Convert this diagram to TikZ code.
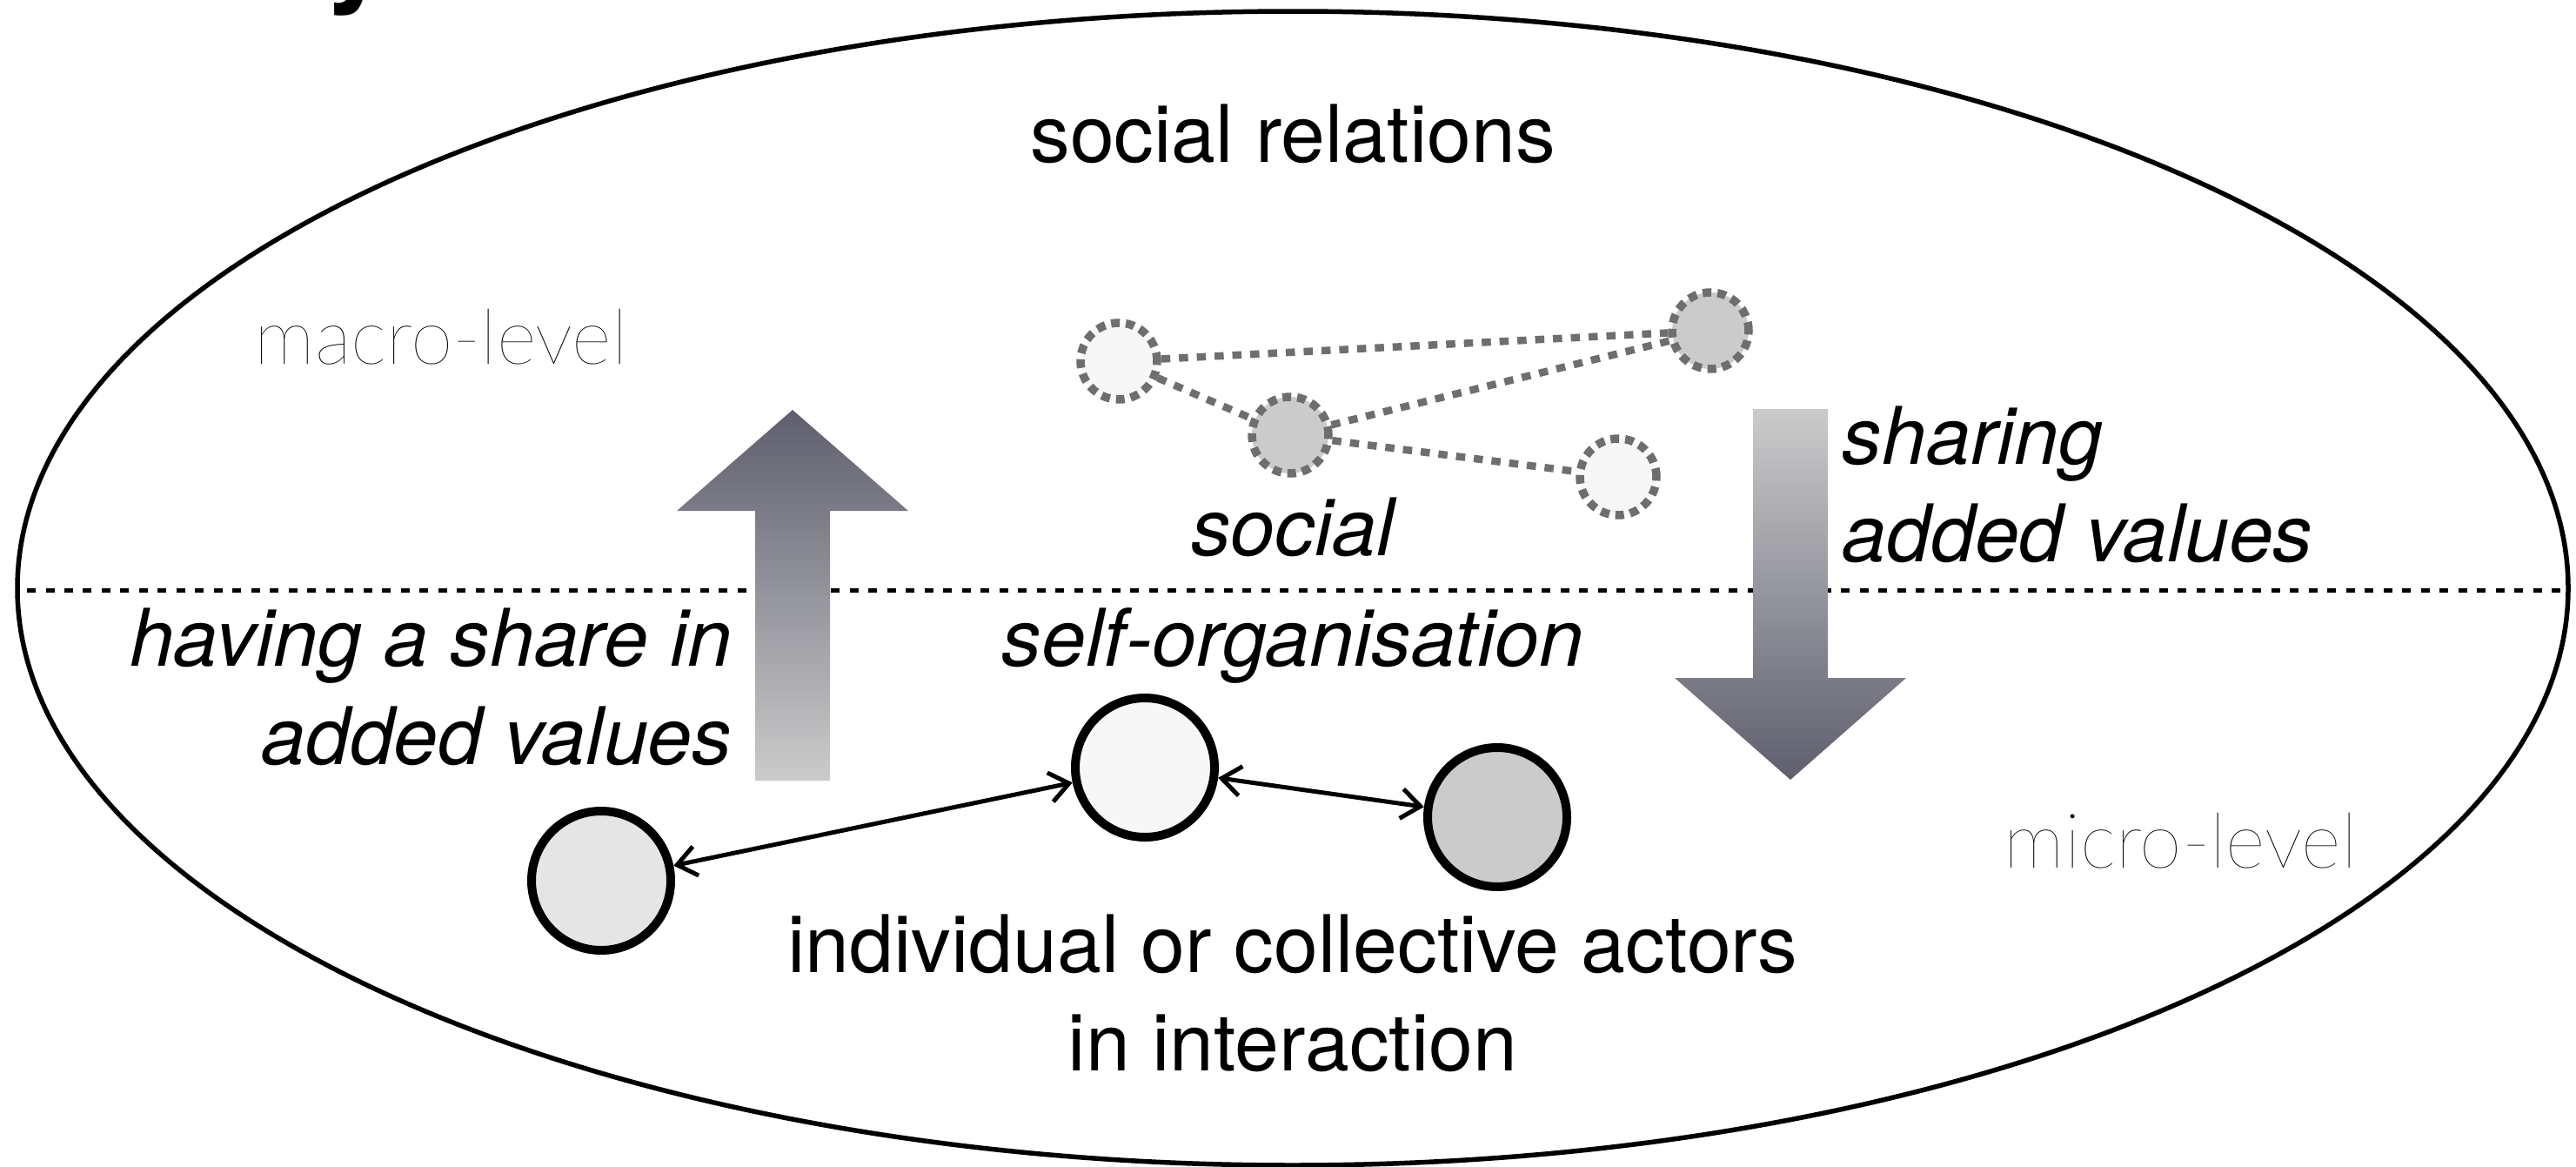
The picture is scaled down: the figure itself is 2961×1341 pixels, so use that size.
\documentclass[tikz,border=0pt]{standalone}
\usepackage{fontspec}
\setmainfont{TeX Gyre Heros}
\IfFontExistsTF{Lato Thin}{\newfontfamily\thinfont{Lato Thin}}{%
\IfFontExistsTF{Lato Hairline}{\newfontfamily\thinfont{Lato Hairline}}{%
  \IfFontExistsTF{Lato Light}{\newfontfamily\thinfont{Lato Light}}{\newfontfamily\thinfont{TeX Gyre Heros}}}}
\usetikzlibrary{arrows.meta}
\definecolor{lightfill}{HTML}{F7F7F7}
\definecolor{midfill}{HTML}{E5E5E5}
\definecolor{grayfill}{HTML}{CBCBCB}
\definecolor{dashgray}{HTML}{6E6E6E}
\definecolor{arrowdark}{HTML}{5E5E6E}
\definecolor{arrowlight}{HTML}{CBCBCB}
\tikzset{
  maintext/.style={font=\fontsize{26}{32}\selectfont, inner sep=0pt},
  itext/.style={font=\fontsize{26}{32}\selectfont\itshape, inner sep=0pt},
  thintext/.style={font=\fontsize{25}{32}\selectfont\thinfont, inner sep=0pt},
  actor/.style={circle, draw=black, line width=1mm, minimum size=16mm, inner sep=0pt},
  relnode/.style={circle, draw=dashgray, line width=0.95mm, dash pattern=on 1mm off 0.7mm, minimum size=8.8mm, inner sep=0pt},
  reledge/.style={draw=dashgray, line width=0.85mm, dash pattern=on 1.05mm off 1mm},
  link/.style={line width=0.5mm, {Straight Barb[length=2.2mm,width=3.4mm]}-{Straight Barb[length=2.2mm,width=3.4mm]}}
}
\begin{document}
\begin{tikzpicture}[x=0.1mm, y=-0.1mm]
\useasboundingbox (0,0) rectangle (2961,1341);
\fill[white] (0,0) rectangle (2961,1341);
% cut-off title fragment
\begin{scope}
\clip (0,0) rectangle (2961,1341);
\node[font=\bfseries\fontsize{40}{40}\selectfont, anchor=base west, inner sep=0pt] (title) at (372,-13) {y};
\end{scope}
% big ellipse
\draw[line width=0.55mm] (1486,676) ellipse [x radius=1466, y radius=663];
% level divider
\draw[line width=0.5mm, dash pattern=on 1mm off 1.15mm] (31,678) -- (2945,678);
% gradient arrows
\shade[top color=arrowdark, bottom color=arrowlight]
  (868,897) -- (868,587) -- (778,587) -- (911,471) -- (1044,587) -- (954,587) -- (954,897) -- cycle;
\shade[top color=arrowlight, bottom color=arrowdark]
  (2015,470) -- (2101,470) -- (2101,779) -- (2191,779) -- (2058,896) -- (1925,779) -- (2015,779) -- cycle;
% social relations network
\node[relnode, fill=lightfill] (ra) at (1286,415) {};
\node[relnode, fill=grayfill] (rb) at (1483,500) {};
\node[relnode, fill=grayfill] (rc) at (1966,380) {};
\node[relnode, fill=lightfill] (rd) at (1860,548) {};
\draw[reledge] (ra) -- (rc);
\draw[reledge] (ra) -- (rb);
\draw[reledge] (rb) -- (rc);
\draw[reledge] (rb) -- (rd);
% actors
\node[actor, fill=midfill] (al) at (691,1012) {};
\node[actor, fill=lightfill] (am) at (1316,882) {};
\node[actor, fill=grayfill] (ar) at (1721,939) {};
\draw[link] (al) -- (am);
\draw[link] (am) -- (ar);
% texts
\node[maintext, anchor=base] (tsr) at (1486,186) {social relations};
\node[thintext, anchor=base west] (tmacro) at (292,418) {macro-level};
\node[thintext, anchor=base west] (tmicro) at (2303,997) {micro-level};
\node[itext, anchor=base east] (th1) at (842,765) {having a share in};
\node[itext, anchor=base east] (th2) at (842,878) {added values};
\node[itext, anchor=base] (ts1) at (1486,638) {social};
\node[itext, anchor=base] (ts2) at (1486,765) {self-organisation};
\node[itext, anchor=base west] (tsh1) at (2117,533) {sharing};
\node[itext, anchor=base west] (tsh2) at (2117,645) {added values};
\node[maintext, anchor=base] (ti1) at (1486,1117) {individual or collective actors};
\node[maintext, anchor=base] (ti2) at (1486,1230) {in interaction};
\end{tikzpicture}
\end{document}
